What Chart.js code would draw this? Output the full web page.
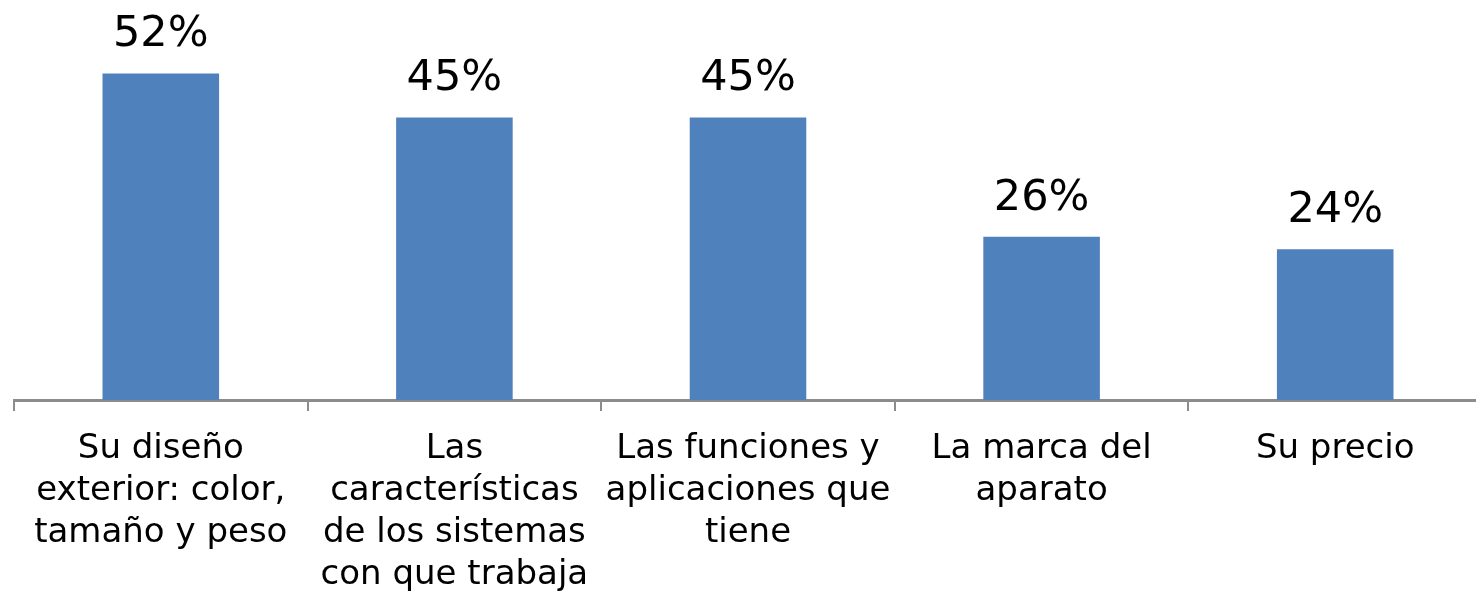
<!DOCTYPE html>
<html>
<head>
<meta charset="utf-8">
<script src="https://cdn.jsdelivr.net/npm/chart.js@4.4.1/dist/chart.umd.min.js"></script>
<style>
  html, body { margin: 0; padding: 0; background: #fff; overflow: hidden; }
  #wrap { width: 1482px; height: 592px; }
</style>
</head>
<body>
<div id="wrap"><canvas id="chart" width="1482" height="592"></canvas></div>
<script>
// Datos del gráfico
const categorias = [
    ['Su diseño', 'exterior: color,', 'tamaño y peso'],
    ['Las', 'características', 'de los sistemas', 'con que trabaja'],
    ['Las funciones y', 'aplicaciones que', 'tiene'],
    ['La marca del', 'aparato'],
    ['Su precio']
];
const porcentajes = [52, 45, 45, 26, 24];
const etiquetas = ['52%', '45%', '45%', '26%', '24%'];

// Etiquetas encima de cada barra
const etiquetasPlugin = {
    id: 'etiquetasBarras',
    afterDatasetsDraw(chart) {
        const ctx = chart.ctx;
        const meta = chart.getDatasetMeta(0);
        ctx.save();
        ctx.font = '43px "DejaVu Sans"';
        ctx.fillStyle = '#000';
        ctx.textAlign = 'center';
        ctx.textBaseline = 'alphabetic';
        meta.data.forEach((bar, i) => {
            ctx.fillText(etiquetas[i], bar.x, bar.y - 27);
        });
        ctx.restore();
    }
};

const ctx = document.getElementById('chart').getContext('2d');
new Chart(ctx, {
    type: 'bar',
    data: {
        labels: categorias,
        datasets: [{
            data: porcentajes,
            backgroundColor: '#4F81BD',
            borderWidth: 0,
            categoryPercentage: 1,
            barPercentage: 0.397
        }]
    },
    options: {
        responsive: false,
        animation: false,
        layout: { padding: { left: 14, right: 0, top: 0, bottom: 0 } },
        plugins: {
            legend: { display: false },
            tooltip: { enabled: false }
        },
        scales: {
            x: {
                offset: true,
                grid: {
                    offset: true,
                    drawOnChartArea: false,
                    drawTicks: true,
                    tickLength: 11,
                    color: '#8C8C8C',
                    lineWidth: 2
                },
                border: { display: true, color: '#8C8C8C', width: 3 },
                ticks: {
                    color: '#000',
                    font: { family: 'DejaVu Sans', size: 34, lineHeight: 1.235 },
                    padding: 17,
                    maxRotation: 0,
                    minRotation: 0,
                    autoSkip: false
                },
                afterFit(scale) { scale.height = 192; }
            },
            y: {
                display: false,
                min: 0,
                max: 63.7
            }
        }
    },
    plugins: [etiquetasPlugin]
});
</script>
</body>
</html>
